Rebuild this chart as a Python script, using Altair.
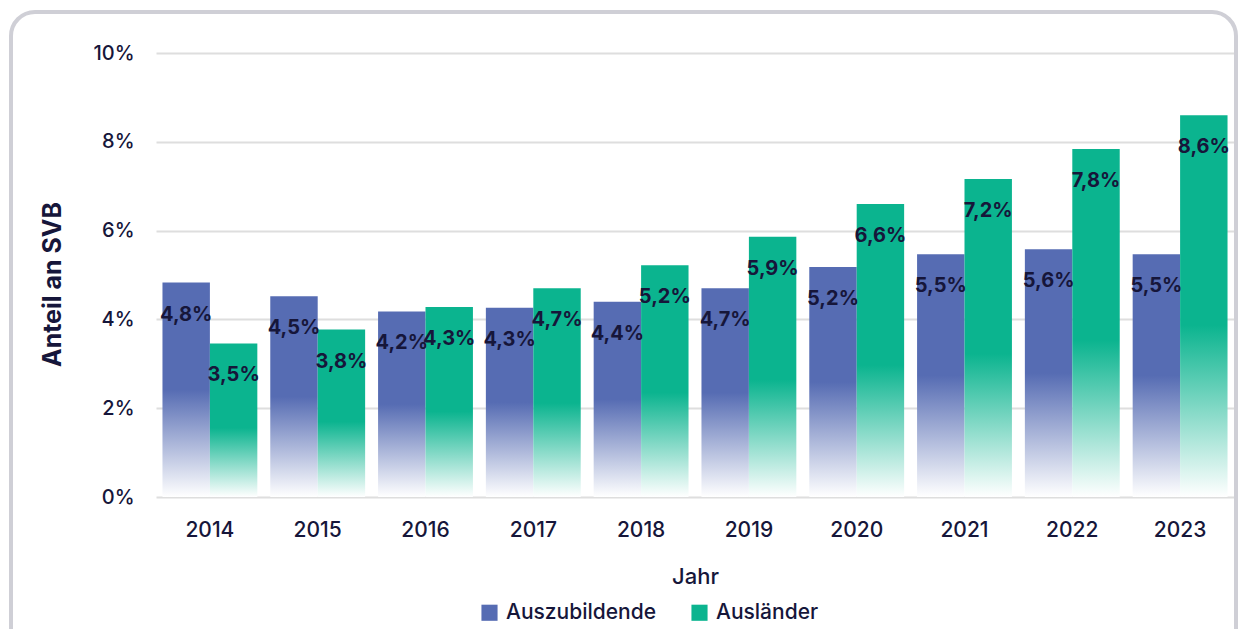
import altair as alt
import pandas as pd

years = ["2014", "2015", "2016", "2017", "2018", "2019", "2020", "2021", "2022", "2023"]
auszubildende = [4.83, 4.52, 4.18, 4.26, 4.40, 4.70, 5.18, 5.47, 5.58, 5.47]
auslaender = [3.46, 3.77, 4.28, 4.70, 5.22, 5.86, 6.60, 7.16, 7.84, 8.60]
series_names = ["Auszubildende", "Ausländer"]
colors = ["#566cb3", "#0bb48f"]
y_ticks = [0, 2, 4, 6, 8, 10]

rows = []
for i, y in enumerate(years):
    rows.append({"Jahr": y, "Serie": series_names[0], "Wert": auszubildende[i]})
    rows.append({"Jahr": y, "Serie": series_names[1], "Wert": auslaender[i]})
df = pd.DataFrame(rows)

FONT = "Inter"
TXT = "#16163a"

x_enc = alt.X("Jahr:N", title="Jahr",
              scale=alt.Scale(paddingInner=0.12, paddingOuter=0.06),
              axis=alt.Axis(labelAngle=0, labelFontSize=21, labelFontWeight=500,
                            labelColor=TXT, labelPadding=22, titleFontSize=22,
                            titleFontWeight=500, titleColor=TXT, titlePadding=26,
                            domain=False, ticks=False, grid=False,
                            labelFont=FONT, titleFont=FONT))
xo_enc = alt.XOffset("Serie:N", scale=alt.Scale(domain=series_names, paddingInner=0))
y_enc = alt.Y("Wert:Q", title="Anteil an SVB",
              scale=alt.Scale(domain=[0, 10], nice=False),
              axis=alt.Axis(values=y_ticks, labelExpr="datum.value + '%'",
                            labelFontSize=20, labelFontWeight=500, labelColor=TXT,
                            labelPadding=22, titleFontSize=25, titleFontWeight="bold",
                            titleColor=TXT, titlePadding=27, titleY=231,
                            domain=False, ticks=False,
                            gridColor="#dedede", gridWidth=2, labelFont=FONT, titleFont=FONT))

def grad(c, stop):
    return alt.Gradient(gradient="linear", x1=0, x2=0, y1=0, y2=1,
                        stops=[alt.GradientStop(color=c, offset=0),
                               alt.GradientStop(color=c, offset=stop),
                               alt.GradientStop(color="#ffffff", offset=1)])

base = alt.Chart(df)

bars = []
for name, c, stop in zip(series_names, colors, [0.5, 0.55]):
    bars.append(base.transform_filter(alt.datum.Serie == name)
                .mark_bar(fill=grad(c, stop), strokeWidth=0)
                .encode(x=x_enc, xOffset=xo_enc, y=y_enc))

labels = base.mark_text(fontSize=20, fontWeight="bold", font=FONT, color=TXT,
                        baseline="middle", dy=32).encode(
    x=x_enc, xOffset=xo_enc, y=y_enc,
    text=alt.Text("lbl:N")).transform_calculate(
    lbl="replace(format(datum.Wert, '.1f'), '.', ',') + '%'")

legend_layer = base.mark_square(opacity=0, size=0).encode(
    color=alt.Color("Serie:N", title=None,
                    scale=alt.Scale(domain=series_names, range=colors),
                    legend=alt.Legend(orient="none", legendX=323, legendY=549,
                                      direction="horizontal",
                                      symbolType="square", symbolSize=260,
                                      symbolOpacity=1, symbolStrokeWidth=0,
                                      labelFontSize=21, labelFontWeight=500,
                                      labelColor=TXT, labelFont=FONT,
                                      columnPadding=32, labelOffset=6)))

frame = alt.Chart(pd.DataFrame({"a": [0]})).mark_rect(
    fill="transparent", stroke="#cfcfd6", strokeWidth=4, cornerRadius=24, clip=False
).encode(x=alt.value(-145), x2=alt.value(1080), y=alt.value(-41), y2=alt.value(660))

chart = alt.layer(frame, *bars, labels, legend_layer).properties(
    width=1078, height=444,
    autosize=alt.AutoSizeParams(type="none"),
    padding={"left": 148, "top": 45, "right": 4, "bottom": 132},
).configure(font=FONT
).configure_view(strokeWidth=0, stroke="transparent"
).configure_axis(domain=False, ticks=False
).configure_axisX(grid=False)

chart.save("out.html", embed_options={"renderer": "svg", "actions": False})
